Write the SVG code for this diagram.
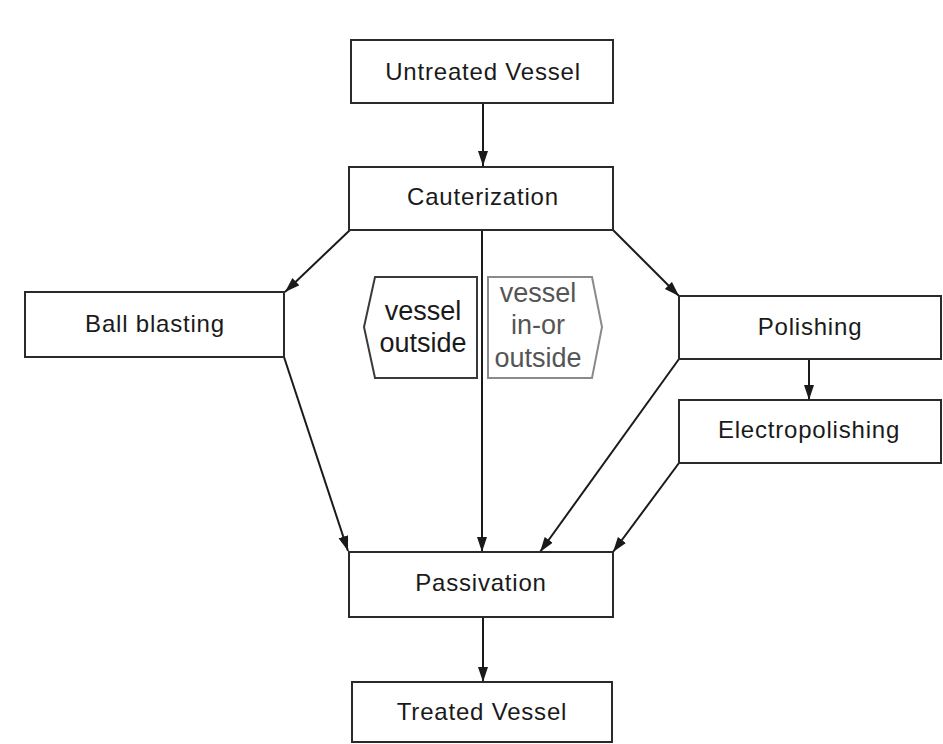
<svg xmlns="http://www.w3.org/2000/svg" width="943" height="744" viewBox="0 0 943 744">
<style>
.box{fill:#fff;stroke:#2a2a2a;stroke-width:2}
.t{font-family:"Liberation Sans",Arial,sans-serif;font-size:24px;fill:#1a1a1a;text-anchor:middle;letter-spacing:0.8px}
.h{font-family:"Liberation Sans",Arial,sans-serif;font-size:27px;fill:#1a1a1a;text-anchor:middle}
.hg{fill:#555}
.c{stroke:#1a1a1a;stroke-width:2;fill:none}
</style>
<defs>
<marker id="ah" markerUnits="userSpaceOnUse" markerWidth="16" markerHeight="12" refX="15" refY="5" orient="auto">
<path d="M0,0 L15,5 L0,10 Z" fill="#1a1a1a"/>
</marker>
</defs>
<rect width="943" height="744" fill="#fff"/>
<g id="connectors">
<line class="c" x1="483" y1="103" x2="483" y2="166" marker-end="url(#ah)"/>
<line class="c" x1="350" y1="230" x2="285" y2="292" marker-end="url(#ah)"/>
<line class="c" x1="613" y1="230" x2="679" y2="296" marker-end="url(#ah)"/>
<line class="c" x1="482" y1="230" x2="482" y2="552" marker-end="url(#ah)"/>
<line class="c" x1="284" y1="357" x2="348" y2="551" marker-end="url(#ah)"/>
<line class="c" x1="679" y1="359" x2="540" y2="552" marker-end="url(#ah)"/>
<line class="c" x1="809" y1="359" x2="809" y2="400" marker-end="url(#ah)"/>
<line class="c" x1="679" y1="463" x2="613" y2="552" marker-end="url(#ah)"/>
<line class="c" x1="483" y1="617" x2="483" y2="682" marker-end="url(#ah)"/>
</g>
<g id="untreated">
<rect class="box" x="351" y="40" width="262" height="63"/>
<text class="t" x="483" y="80">Untreated Vessel</text>
</g>
<g id="cauterization">
<rect class="box" x="349" y="167" width="264" height="63"/>
<text class="t" x="483" y="205">Cauterization</text>
</g>
<g id="ballblasting">
<rect class="box" x="25" y="292" width="259" height="65"/>
<text class="t" x="155" y="332">Ball blasting</text>
</g>
<g id="polishing">
<rect class="box" x="679" y="296" width="262" height="63"/>
<text class="t" x="810" y="335">Polishing</text>
</g>
<g id="electropolishing">
<rect class="box" x="679" y="400" width="262" height="63"/>
<text class="t" x="809" y="438">Electropolishing</text>
</g>
<g id="passivation">
<rect class="box" x="349" y="552" width="264" height="65"/>
<text class="t" x="481" y="591">Passivation</text>
</g>
<g id="treated">
<rect class="box" x="352" y="682" width="260" height="60"/>
<text class="t" x="482" y="720">Treated Vessel</text>
</g>
<g id="vessel-outside">
<polygon points="375,277 477,277 477,378 375,378 364,327" fill="#fff" stroke="#3a3a3a" stroke-width="2"/>
<text class="h" x="423" y="320">vessel</text>
<text class="h" x="423" y="352">outside</text>
</g>
<g id="vessel-in-or-outside">
<polygon points="488,277 592,277 602,327 592,378 488,378" fill="#fff" stroke="#8a8a8a" stroke-width="2"/>
<text class="h hg" x="538" y="302">vessel</text>
<text class="h hg" x="538" y="334">in-or</text>
<text class="h hg" x="538" y="367">outside</text>
</g>
</svg>
